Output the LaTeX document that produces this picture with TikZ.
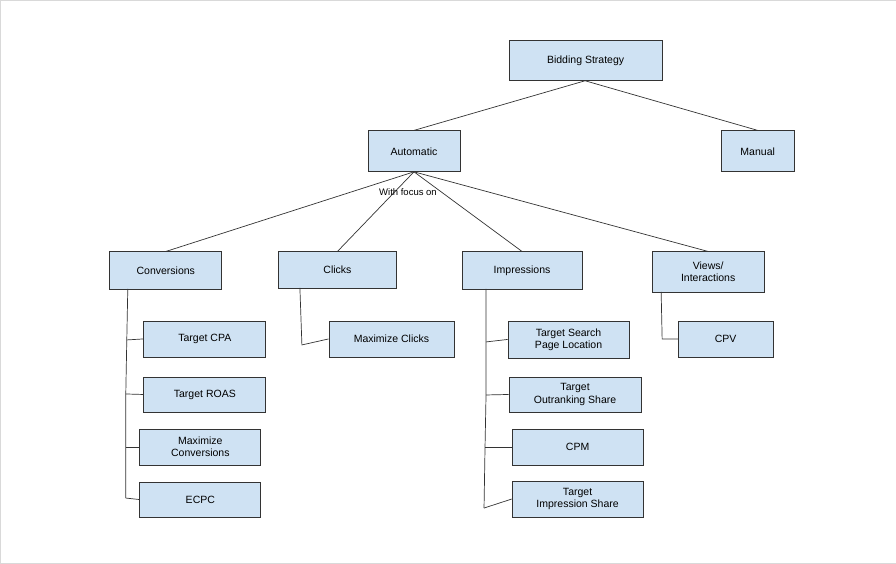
\documentclass[tikz,border=0pt]{standalone}
\usepackage{fontspec}
\setmainfont{Liberation Sans}
\begin{document}
\begin{tikzpicture}[x=1pt,y=-1pt,
  box/.style={draw=black!80,fill={rgb,255:red,207;green,226;blue,243},line width=0.8pt,align=center,font=\fontsize{10.5}{12}\selectfont,inner sep=0pt},
  ln/.style={draw=black!80,line width=0.7pt}]
\path[use as bounding box,draw=black!15] (0.5,0.5) rectangle (895.5,563.5);
\newcommand{\bx}[6]{\node[box,minimum width=#4-#2,minimum height=#5-#3] (#1) at ({(#2+#4)/2},{(#3+#5)/2}) {#6};}
\bx{bid}{509}{41}{662}{81}{Bidding Strategy}
\bx{auto}{368}{131}{460}{172}{Automatic}
\bx{man}{721}{131}{794}{172}{Manual}
\bx{conv}{110}{252}{222}{289}{Conversions}
\bx{clk}{279}{252}{396}{288}{Clicks}
\bx{imp}{462}{252}{582}{289}{Impressions}
\bx{view}{652}{252}{764}{292}{Views/\\Interactions}
\bx{tcpa}{144}{321}{266}{357}{Target CPA}
\bx{troas}{144}{377}{266}{412}{Target ROAS}
\bx{mconv}{140}{429}{261}{465}{Maximize\\Conversions}
\bx{ecpc}{140}{482}{261}{517}{ECPC}
\bx{mclk}{329}{321}{454}{357}{Maximize Clicks}
\bx{tspl}{508}{321}{629}{358}{Target Search\\Page Location}
\bx{tos}{509}{377}{641}{412}{Target\\Outranking Share}
\bx{cpm}{512}{429}{643}{465}{CPM}
\bx{tis}{512}{481}{643}{517}{Target\\Impression Share}
\bx{cpv}{678}{321}{773}{357}{CPV}
\draw[ln] (585,81) coordinate (b1) -- (auto.north);
\draw[ln] (b1) -- (man.north);
\coordinate (a1) at (414,172);
\draw[ln] (a1) -- (conv.north);
\draw[ln] (a1) -- (clk.north);
\draw[ln] (a1) -- (imp.north);
\draw[ln] (a1) -- (view.north);
\node[font=\fontsize{9.5}{11}\selectfont,inner sep=0pt] (wf) at (408,192) {With focus on};
% Conversions branch
\coordinate (c0) at (128,289);
\coordinate (c1) at (127,340); \coordinate (c2) at (126,394);
\coordinate (c3) at (126,447); \coordinate (c4) at (126,498);
\draw[ln] (c0) -- (c1) -- (c2) -- (c3) -- (c4);
\draw[ln] (c1) -- (tcpa.west); \draw[ln] (c2) -- (troas.west);
\draw[ln] (c3) -- (mconv.west); \draw[ln] (c4) -- (ecpc.west);
% Clicks
\coordinate (k0) at (300,288); \coordinate (k1) at (302,345);
\draw[ln] (k0) -- (k1) -- (mclk.west);
% Impressions
\coordinate (i0) at (486,289); \coordinate (i1) at (486,342);
\coordinate (i2) at (486,395); \coordinate (i3) at (485,447); \coordinate (i4) at (484,508);
\draw[ln] (i0) -- (i1) -- (i2) -- (i3) -- (i4);
\draw[ln] (i1) -- (tspl.west); \draw[ln] (i2) -- (tos.west);
\draw[ln] (i3) -- (cpm.west); \draw[ln] (i4) -- (tis.west);
% Views
\coordinate (v0) at (661,292); \coordinate (v1) at (662,339);
\draw[ln] (v0) -- (v1) -- (cpv.west);
\end{tikzpicture}
\end{document}
